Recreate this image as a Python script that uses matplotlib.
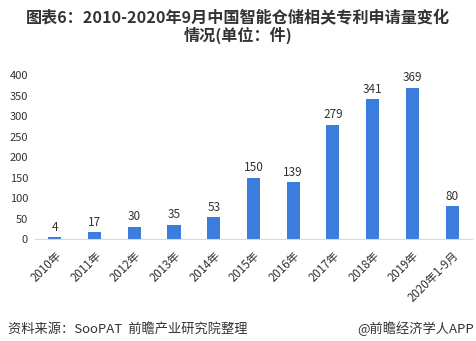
import matplotlib
matplotlib.use('Agg')
import matplotlib.pyplot as plt

plt.rcParams['font.family'] = ['Noto Sans CJK SC', 'DejaVu Sans']

years = ['2010年', '2011年', '2012年', '2013年', '2014年', '2015年',
         '2016年', '2017年', '2018年', '2019年', '2020年1-9月']
counts = [4, 17, 30, 35, 53, 150, 139, 279, 341, 369, 80]
yticks = [0, 50, 100, 150, 200, 250, 300, 350, 400]

bar_color = '#3B7DDD'
text_color = '#333333'

fig = plt.figure(figsize=(4.76, 3.41), dpi=100)
ax = fig.add_axes([0.0735, 0.299, 0.918, 0.481])

x = range(len(years))
ax.bar(x, counts, width=0.33, color=bar_color)
for i, v in zip(x, counts):
    ax.text(i, v + 8, str(v), ha='center', va='bottom', fontsize=8.5, color=text_color)

ax.set_xlim(-0.5, len(years) - 0.5)
ax.set_ylim(0, 400)
ax.set_yticks(yticks)
ax.set_yticklabels([str(t) for t in yticks], fontsize=8, color=text_color)
ax.set_xticks(list(x))
ax.set_xticklabels(years, rotation=45, ha='right', rotation_mode='anchor',
                   fontsize=8.3, color=text_color)
ax.tick_params(axis='y', length=0, pad=5)
ax.tick_params(axis='x', length=0, pad=7)

for side in ['top', 'right', 'left']:
    ax.spines[side].set_visible(False)
ax.spines['bottom'].set_color('#d9d9d9')
ax.spines['bottom'].set_linewidth(0.8)

fig.text(0.5, 1 - 18 / 341, '图表6：2010-2020年9月中国智能仓储相关专利申请量变化',
         ha='center', va='center', fontsize=11.6, fontweight='bold', color=text_color)
fig.text(0.5, 1 - 35 / 341, '情况(单位：件)',
         ha='center', va='center', fontsize=11.6, fontweight='bold', color=text_color)

fig.text(8 / 476, 1 - 329 / 341, '资料来源：SooPAT  前瞻产业研究院整理',
         ha='left', va='center', fontsize=9.5, color=text_color)
fig.text(474 / 476, 1 - 329 / 341, '@前瞻经济学人APP',
         ha='right', va='center', fontsize=9.5, color=text_color)

fig.savefig('out.png', dpi=100)
